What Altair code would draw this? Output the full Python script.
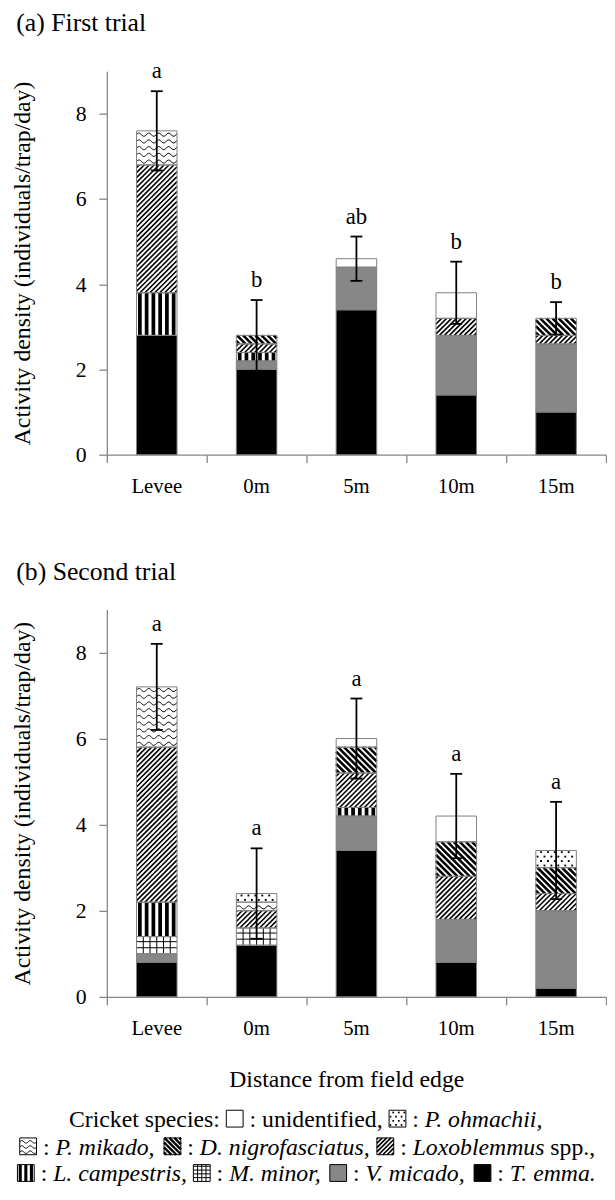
import math
import pandas as pd
import altair as alt

FONT = "Liberation Serif"

# ---------------- data ----------------
sites = ["Levee", "0m", "5m", "10m", "15m"]
# stacking order, bottom -> top
species = ["T. emma", "V. micado", "M. minor", "L. campestris", "Loxoblemmus spp.",
           "D. nigrofasciatus", "P. mikado", "P. ohmachii", "unidentified"]

t1_emma = [2.8, 2.0, 3.4, 1.4, 1.0]
t1_vmic = [0.0, 0.2, 1.0, 1.4, 1.6]
t1_mminor = [0.0, 0.0, 0.0, 0.0, 0.0]
t1_lcamp = [1.0, 0.2, 0.0, 0.0, 0.0]
t1_loxo = [3.0, 0.2, 0.0, 0.4, 0.2]
t1_dnigro = [0.0, 0.2, 0.0, 0.0, 0.4]
t1_pmik = [0.8, 0.0, 0.0, 0.0, 0.0]
t1_pohm = [0.0, 0.0, 0.0, 0.0, 0.0]
t1_unid = [0.0, 0.0, 0.2, 0.6, 0.0]
t1_se = [0.93, 0.83, 0.52, 0.73, 0.38]
t1_letters = ["a", "b", "ab", "b", "b"]

t2_emma = [0.8, 1.2, 3.4, 0.8, 0.2]
t2_vmic = [0.2, 0.0, 0.8, 1.0, 1.8]
t2_mminor = [0.4, 0.4, 0.0, 0.0, 0.0]
t2_lcamp = [0.8, 0.0, 0.2, 0.0, 0.0]
t2_loxo = [3.6, 0.4, 0.8, 1.0, 0.4]
t2_dnigro = [0.0, 0.0, 0.6, 0.8, 0.6]
t2_pmik = [1.4, 0.2, 0.0, 0.0, 0.0]
t2_pohm = [0.0, 0.2, 0.0, 0.0, 0.4]
t2_unid = [0.0, 0.0, 0.2, 0.6, 0.0]
t2_se = [1.0, 1.05, 0.93, 0.98, 1.13]
t2_letters = ["a", "a", "a", "a", "a"]

trial1 = dict(zip(species, [t1_emma, t1_vmic, t1_mminor, t1_lcamp, t1_loxo,
                            t1_dnigro, t1_pmik, t1_pohm, t1_unid]))
trial2 = dict(zip(species, [t2_emma, t2_vmic, t2_mminor, t2_lcamp, t2_loxo,
                            t2_dnigro, t2_pmik, t2_pohm, t2_unid]))

# ---------------- styles ----------------
STYLE = {
    "T. emma": ("#000000", None),
    "V. micado": ("#878787", None),
    "M. minor": ("#ffffff", "grid"),
    "L. campestris": ("#ffffff", "vert"),
    "Loxoblemmus spp.": ("#ffffff", "up"),
    "D. nigrofasciatus": ("#ffffff", "down"),
    "P. mikado": ("#ffffff", "wave"),
    "P. ohmachii": ("#ffffff", "dots"),
    "unidentified": ("#ffffff", None),
}

W = 505
H1 = 388
H2 = 392
XMAX = 5
YMAX = 9
BAR_PX = 41
AXIS_GRAY = "#868686"
TITLE_FS = 26


def pattern(kind, w, h, glyph=False):
    """Pattern strokes in pixel space, u to the right, v upward from bottom-left."""
    segs, dots, waves = [], [], []
    if kind == "up":
        per = 4.4 if glyph else 5.0
        sw = 1.7 if glyph else 1.6
        c = -w + per / 2
        while c < h:
            ua, ub = max(0.0, -c), min(w, h - c)
            if ub - ua > 0.3:
                segs.append((ua, ua + c, ub, ub + c, sw))
            c += per
    elif kind == "down":
        per = 5.0 if glyph else 6.2
        sw = 2.4 if glyph else 2.6
        c = per / 2
        while c < w + h:
            ua, ub = max(0.0, c - h), min(w, c)
            if ub - ua > 0.3:
                segs.append((ua, c - ua, ub, c - ub, sw))
            c += per
    elif kind == "vert":
        n = 3 if glyph else 6
        per = w / n
        sw = per * 0.55
        for k in range(n):
            u = per * (k + 0.5)
            segs.append((u, 0.0, u, h, sw))
    elif kind == "grid":
        per = w / (4 if glyph else 6)
        u = per
        while u < w - 0.5:
            segs.append((u, 0.0, u, h, 1.0))
            u += per
        v = per * 0.9
        while v < h - 0.5:
            segs.append((0.0, v, w, v, 1.0))
            v += per * 0.9
    elif kind == "wave":
        sp = 5.2 if glyph else 6.8
        amp = 1.3 if glyph else 1.6
        lam = 8.5 if glyph else 10.0
        v0 = sp / 2
        while v0 + amp <= h - 0.3:
            if v0 - amp >= 0.3:
                n = int(w)
                pts = []
                for j in range(n + 1):
                    u = w * j / n
                    pts.append((u, v0 + amp * math.sin(2 * math.pi * u / lam)))
                waves.append(pts)
            v0 += sp
    elif kind == "dots":
        rs = 4.2 if glyph else 4.5
        cs = 5.6 if glyph else 7.0
        r = 0
        v = rs / 2
        while v < h - 0.8:
            u = cs / 4 if r % 2 == 0 else 3 * cs / 4
            while u < w - 0.8:
                dots.append((u, v))
                u += cs
            v += rs
            r += 1
    return segs, dots, waves


def panel_layers(vals, se, letters, H, title_text, title_y):
    sx = W / XMAX
    sy = H / YMAX
    hw = BAR_PX / 2 / sx
    rect_rows, seg_rows, dot_rows, wave_rows, err_rows = [], [], [], [], []
    wid = 0
    for i, site in enumerate(sites):
        cx = i + 0.5
        base = 0.0
        for sp in species:
            v = vals[sp][i]
            if v <= 0:
                continue
            fill, kind = STYLE[sp]
            x0, x1 = cx - hw, cx + hw
            rect_rows.append(dict(x=x0, x2=x1, y=base, y2=base + v, fill=fill))
            if kind:
                segs, dots, waves = pattern(kind, BAR_PX, v * sy)
                for (u1, v1, u2, v2, sw) in segs:
                    seg_rows.append(dict(x=x0 + u1 / sx, y=base + v1 / sy,
                                         x2=x0 + u2 / sx, y2=base + v2 / sy, sw=sw))
                for (u, vv) in dots:
                    dot_rows.append(dict(x=x0 + u / sx, y=base + vv / sy))
                for pts in waves:
                    for k, (u, vv) in enumerate(pts):
                        wave_rows.append(dict(x=x0 + u / sx, y=base + vv / sy, id=wid, ord=k))
                    wid += 1
            base += v
        err_rows.append(dict(x=cx, lo=base - se[i], hi=base + se[i], letter=letters[i], site=site))

    xs = alt.Scale(domain=[0, XMAX], nice=False, zero=False)
    ys = alt.Scale(domain=[0, YMAX], nice=False)
    x_axis = alt.Axis(values=list(range(XMAX + 1)), labels=False, title=None, grid=False,
                      tickSize=8, tickWidth=1.3, tickColor=AXIS_GRAY,
                      domainWidth=1.3, domainColor=AXIS_GRAY)
    y_axis = alt.Axis(values=[0, 2, 4, 6, 8], title="Activity density (individuals/trap/day)",
                      titleFontSize=24, titleFont=FONT, titleFontWeight="normal",
                      titleColor="black", titlePadding=41, grid=False, labelFontSize=22,
                      labelFont=FONT, labelColor="black", labelPadding=13, tickSize=8,
                      tickWidth=1.3, tickColor=AXIS_GRAY, domainWidth=1.3,
                      domainColor=AXIS_GRAY)

    rects = pd.DataFrame(rect_rows)
    err = pd.DataFrame(err_rows)
    layers = [
        alt.Chart(rects).mark_rect(strokeWidth=0).encode(
            x=alt.X("x:Q", scale=xs, axis=x_axis), x2="x2:Q",
            y=alt.Y("y:Q", scale=ys, axis=y_axis), y2="y2:Q",
            fill=alt.Fill("fill:N", scale=None)),
    ]
    if seg_rows:
        layers.append(alt.Chart(pd.DataFrame(seg_rows)).mark_rule(color="black", strokeCap="butt").encode(
            x="x:Q", x2="x2:Q", y="y:Q", y2="y2:Q",
            strokeWidth=alt.StrokeWidth("sw:Q", scale=None)))
    if dot_rows:
        layers.append(alt.Chart(pd.DataFrame(dot_rows)).mark_square(size=3.5, color="black", opacity=1).encode(
            x="x:Q", y="y:Q"))
    if wave_rows:
        layers.append(alt.Chart(pd.DataFrame(wave_rows)).mark_line(color="black", strokeWidth=1).encode(
            x="x:Q", y="y:Q", detail="id:N", order="ord:Q"))
    layers += [
        alt.Chart(rects).mark_rect(fillOpacity=0, stroke="#7f7f7f", strokeWidth=1).encode(
            x="x:Q", x2="x2:Q", y="y:Q", y2="y2:Q"),
        alt.Chart(err).mark_rule(color="black", strokeWidth=1.8).encode(
            x="x:Q", y="lo:Q", y2="hi:Q"),
        alt.Chart(err).mark_tick(orient="horizontal", size=12, thickness=1.8, color="black",
                                 opacity=1).encode(x="x:Q", y="lo:Q"),
        alt.Chart(err).mark_tick(orient="horizontal", size=12, thickness=1.8, color="black",
                                 opacity=1).encode(x="x:Q", y="hi:Q"),
        alt.Chart(err).mark_text(fontSize=23, font=FONT, baseline="alphabetic", dy=-13,
                                 color="black").encode(x="x:Q", y="hi:Q", text="letter:N"),
        # category labels under the axis
        alt.Chart(err).mark_text(fontSize=21, font=FONT, baseline="top", color="black").encode(
            x="x:Q", y=alt.value(H + 21.7), text="site:N"),
        alt.Chart(pd.DataFrame({"t": [title_text]})).mark_text(
            align="left", baseline="top", fontSize=TITLE_FS, font=FONT, color="black").encode(
            x=alt.value(-91.6), y=alt.value(title_y), text="t:N"),
    ]
    return layers


# ---------------- legend (pixel layout, relative to lower plot origin) ----------------
LEG_FS = 24
ROMAN = {" ": 250, ",": 250, ".": 250, ":": 278, "C": 667, "a": 444, "c": 444, "d": 500,
         "e": 444, "f": 333, "i": 278, "k": 500, "n": 500, "p": 500, "r": 333, "s": 389,
         "t": 278, "u": 500}
ITAL = {" ": 250, ",": 250, ".": 250, "a": 500, "b": 500, "c": 444, "d": 500, "e": 444,
        "f": 278, "g": 500, "h": 500, "i": 278, "k": 444, "l": 278, "m": 722, "n": 500,
        "o": 500, "p": 500, "r": 389, "s": 389, "t": 278, "u": 500, "x": 444, "D": 722,
        "L": 556, "M": 833, "P": 611, "T": 556, "V": 611}
GLYPH_ADV = 18.0
GLYPH_BOX = 17.0


def tw(s, italic):
    table = ITAL if italic else ROMAN
    return sum(table.get(ch, 500) for ch in s) * LEG_FS / 1000.0


legend_lines = [
    [("r", "Cricket species: "), ("g", "unidentified"), ("r", " : unidentified, "),
     ("g", "P. ohmachii"), ("r", " : "), ("i", "P. ohmachii,")],
    [("g", "P. mikado"), ("r", " : "), ("i", "P. mikado,"), ("r", " "),
     ("g", "D. nigrofasciatus"), ("r", " : "), ("i", "D. nigrofasciatus,"), ("r", " "),
     ("g", "Loxoblemmus spp."), ("r", " : "), ("i", "Loxoblemmus"), ("r", " spp.,")],
    [("g", "L. campestris"), ("r", " : "), ("i", "L. campestris,"), ("r", " "),
     ("g", "M. minor"), ("r", " : "), ("i", "M. minor,"), ("r", " "),
     ("g", "V. micado"), ("r", " : "), ("i", "V. micado,"), ("r", " "),
     ("g", "T. emma"), ("r", " : "), ("i", "T. emma.")],
]
ORIGIN_X = 108.3    # page x of the plot origins
ORIGIN_Y = 609.3    # page y of the lower plot's top edge
line_baselines = [1133.0, 1161.0, 1188.0]
line_center = 311.0
xtitle = "Distance from field edge"
xtitle_pos = (351.0, 1092.0)

roman_rows, ital_rows, box_rows, lseg, ldot, lwave = [], [], [], [], [], []
lw_id = 0
for line, base_page in zip(legend_lines, line_baselines):
    widths = [GLYPH_ADV if k == "g" else tw(t, k == "i") for k, t in line]
    x = line_center - sum(widths) / 2 - ORIGIN_X
    yb = base_page - ORIGIN_Y
    for (k, t), wdt in zip(line, widths):
        if k == "g":
            fill, kind = STYLE[t]
            bx0 = x + (GLYPH_ADV - GLYPH_BOX) / 2
            box_rows.append(dict(x=bx0, x2=bx0 + GLYPH_BOX, y=yb - GLYPH_BOX, y2=yb, fill=fill))
            if kind:
                segs, dots, waves = pattern(kind, GLYPH_BOX, GLYPH_BOX, glyph=True)
                for (u1, v1, u2, v2, sw) in segs:
                    lseg.append(dict(x=bx0 + u1, y=yb - v1, x2=bx0 + u2, y2=yb - v2, sw=sw))
                for (u, v) in dots:
                    ldot.append(dict(x=bx0 + u, y=yb - v))
                for pts in waves:
                    for j, (u, v) in enumerate(pts):
                        lwave.append(dict(x=bx0 + u, y=yb - v, id=lw_id, ord=j))
                    lw_id += 1
        else:
            stripped = t.strip()
            lead = tw(t[: len(t) - len(t.lstrip())], k == "i")
            row = dict(x=x + lead, y=yb, text=stripped)
            (ital_rows if k == "i" else roman_rows).append(row)
        x += wdt

LX = lambda f: alt.X(f"{f}:Q", scale=None)
LY = lambda f: alt.Y(f"{f}:Q", scale=None)
legend_layers = [
    alt.Chart(pd.DataFrame(roman_rows)).mark_text(align="left", baseline="alphabetic",
                                                  fontSize=LEG_FS, font=FONT, color="black").encode(
        x=LX("x"), y=LY("y"), text="text:N"),
    alt.Chart(pd.DataFrame({"t": [xtitle]})).mark_text(align="center", baseline="alphabetic",
                                                       fontSize=LEG_FS, font=FONT, color="black").encode(
        x=alt.value(xtitle_pos[0] - ORIGIN_X), y=alt.value(xtitle_pos[1] - ORIGIN_Y), text="t:N"),
    alt.Chart(pd.DataFrame(ital_rows)).mark_text(align="left", baseline="alphabetic", fontSize=LEG_FS,
                                                 font=FONT, fontStyle="italic", color="black").encode(
        x=LX("x"), y=LY("y"), text="text:N"),
    alt.Chart(pd.DataFrame(box_rows)).mark_rect(strokeWidth=0).encode(
        x=LX("x"), x2="x2:Q", y=LY("y"), y2="y2:Q", fill=alt.Fill("fill:N", scale=None)),
    alt.Chart(pd.DataFrame(lseg)).mark_rule(color="black", strokeCap="butt").encode(
        x=LX("x"), x2="x2:Q", y=LY("y"), y2="y2:Q", strokeWidth=alt.StrokeWidth("sw:Q", scale=None)),
    alt.Chart(pd.DataFrame(ldot)).mark_square(size=3, color="black", opacity=1).encode(
        x=LX("x"), y=LY("y")),
    alt.Chart(pd.DataFrame(lwave)).mark_line(color="black", strokeWidth=1).encode(
        x=LX("x"), y=LY("y"), detail="id:N", order="ord:Q"),
    alt.Chart(pd.DataFrame(box_rows)).mark_rect(fillOpacity=0, stroke="black", strokeWidth=1).encode(
        x=LX("x"), x2="x2:Q", y=LY("y"), y2="y2:Q"),
]

top = alt.layer(*panel_layers(trial1, t1_se, t1_letters, H1, "(a) First trial", -61.3)).properties(
    width=W, height=H1)
bottom = alt.layer(*(panel_layers(trial2, t2_se, t2_letters, H2, "(b) Second trial", -50.8)
                     + legend_layers)).properties(width=W, height=H2)

chart = alt.vconcat(top, bottom, spacing=62.5).properties(
    padding={"left": 3, "top": -5, "right": 0, "bottom": 0})
chart = chart.configure(font=FONT).configure_view(stroke=None)
chart.save("out.html", embed_options={"renderer": "svg", "actions": False})
